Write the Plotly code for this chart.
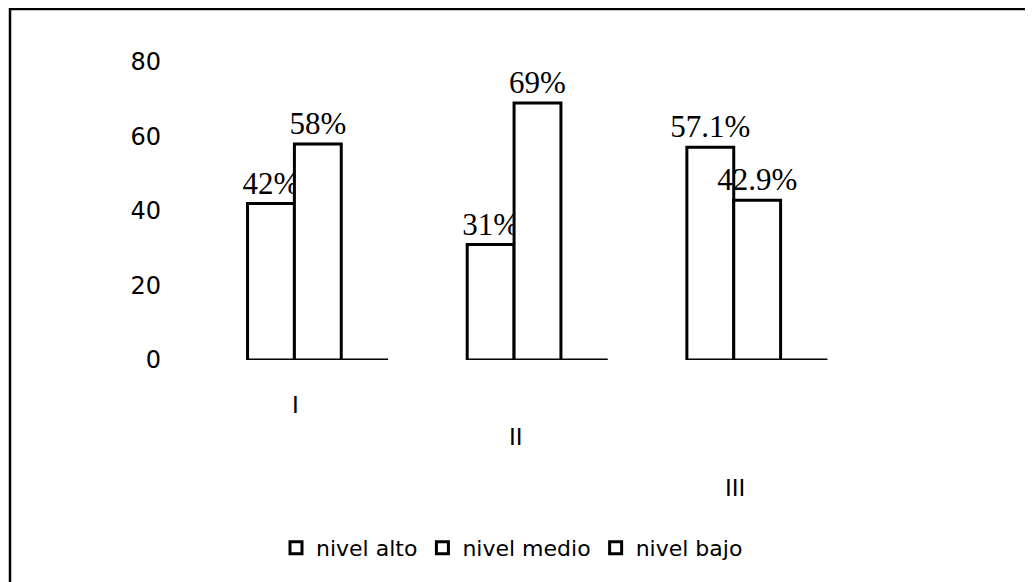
import plotly.graph_objects as go

categories = ["I", "II", "III"]
nivel_alto = [42, 31, 57.1]
nivel_medio = [58, 69, 42.9]
nivel_bajo = [0, 0, 0]
labels_alto = ["42%", "31%", "57.1%"]
labels_medio = ["58%", "69%", "42.9%"]
labels_bajo = ["", "", ""]
series_names = ["nivel alto", "nivel medio", "nivel bajo"]

OFF = 8  # page body margin in the browser
W, H = 1033 - OFF, 582 - OFF
# target screen pixels of the plot area
left_px, right_px, top_px, bottom_px = 208, 867, 62, 360
ml = left_px - OFF
mr = W - (right_px - OFF)
mt = top_px - OFF
mb = H - (bottom_px - OFF)
pw = W - ml - mr
ph = H - mt - mb


def px_x(sx):
    return (sx - left_px) / pw


def px_y(sy):
    return (bottom_px - sy) / ph


fig = go.Figure()
for name, vals, txt in zip(series_names, [nivel_alto, nivel_medio, nivel_bajo],
                           [labels_alto, labels_medio, labels_bajo]):
    fig.add_trace(go.Bar(
        name=name, x=categories, y=vals, text=txt,
        textposition="outside", cliponaxis=False, constraintext="none",
        textfont=dict(family="Liberation Serif", size=31, color="black"),
        marker=dict(color="white", line=dict(color="black", width=3)),
    ))

# frame around the chart area
fig.add_shape(type="rect", xref="paper", yref="paper",
              x0=px_x(10), x1=px_x(1031), y0=px_y(600), y1=px_y(9),
              line=dict(color="black", width=2.5), fillcolor="rgba(0,0,0,0)", layer="below")

# staggered category labels (perspective look of the original)
label_pixel_y = [405, 437, 488]
for cat, sy in zip(categories, label_pixel_y):
    fig.add_annotation(x=cat, xref="x", y=px_y(sy), yref="paper",
                       text=cat, showarrow=False, xshift=-22,
                       font=dict(family="DejaVu Sans", size=23, color="black"),
                       yanchor="middle")

fig.update_layout(
    width=W, height=H,
    margin=dict(l=ml, r=mr, t=mt, b=mb, autoexpand=False),
    paper_bgcolor="white", plot_bgcolor="white",
    barmode="group", bargap=0.36, bargroupgap=0,
    font=dict(family="DejaVu Sans", size=22, color="black"),
    showlegend=True,
    legend=dict(orientation="h", x=px_x(512), xanchor="center", y=px_y(548),
                yanchor="middle",
                font=dict(family="DejaVu Sans", size=22, color="black"),
                itemwidth=30, traceorder="normal"),
    xaxis=dict(showline=False, showgrid=False, zeroline=False, ticks="",
               showticklabels=False),
    yaxis=dict(range=[0, 80], tickvals=[0, 20, 40, 60, 80], showgrid=False,
               showline=False, zeroline=False, ticks="", ticklabelstandoff=46,
               tickfont=dict(family="DejaVu Sans", size=24)),
)

fig.write_html("out.html")
